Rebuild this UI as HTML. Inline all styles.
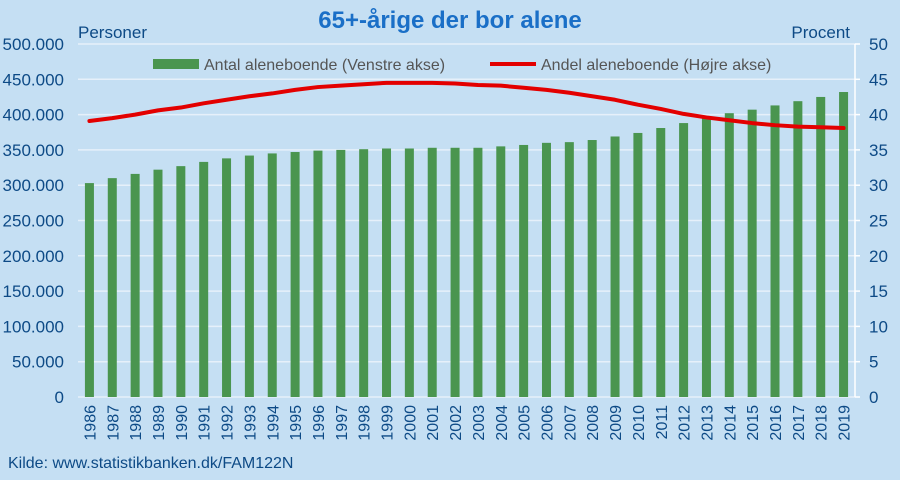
<!DOCTYPE html>
<html><head><meta charset="utf-8"><style>
body{margin:0;background:#c5dff3;}
svg{display:block;font-family:"Liberation Sans",sans-serif;}
</style></head><body>
<svg id="chart" width="900" height="480">
<rect x="0" y="0" width="900" height="480" fill="#c5dff3"/>
<text x="450" y="28" text-anchor="middle" font-size="24" font-weight="bold" fill="#1a6fc7">65+-årige der bor alene</text>
<text x="78" y="38" font-size="17" fill="#0d4a86">Personer</text>
<text x="850" y="38" text-anchor="end" font-size="17" fill="#0d4a86">Procent</text>
<g id="grid"></g><g id="bars"></g><g id="line"></g><g id="axes"></g>
<g>
<rect x="153" y="59" width="46" height="10" fill="#4a954f"/>
<text x="204" y="70" font-size="16" fill="#555">Antal aleneboende (Venstre akse)</text>
<line x1="490" y1="64" x2="536" y2="64" stroke="#e30000" stroke-width="4"/>
<text x="541" y="70" font-size="16" fill="#555">Andel aleneboende (Højre akse)</text>
</g>
<text x="8" y="468" font-size="16" fill="#0d4a86">Kilde: www.statistikbanken.dk/FAM122N</text>
</svg>
<script>
const years=[1986,1987,1988,1989,1990,1991,1992,1993,1994,1995,1996,1997,1998,1999,2000,2001,2002,2003,2004,2005,2006,2007,2008,2009,2010,2011,2012,2013,2014,2015,2016,2017,2018,2019];
const persons=[303,310,316,322,327,333,338,342,345,347,349,350,351,352,352,353,353,353,355,357,360,361,364,369,374,381,388,395,402,407,413,419,425,432];
const percent=[39.1,39.5,40.0,40.6,41.0,41.6,42.1,42.6,43.0,43.5,43.9,44.1,44.3,44.5,44.5,44.5,44.4,44.2,44.1,43.8,43.5,43.1,42.6,42.1,41.4,40.8,40.1,39.6,39.2,38.8,38.5,38.3,38.2,38.1];
const leftTicks=[0,50,100,150,200,250,300,350,400,450,500];
const leftTickLabels=["0","50.000","100.000","150.000","200.000","250.000","300.000","350.000","400.000","450.000","500.000"];
const rightTicks=[0,5,10,15,20,25,30,35,40,45,50];
const NS="http://www.w3.org/2000/svg";
const X0=78,X1=855,Y0=397,Y1=44;
const band=(X1-X0)/years.length;
const xc=i=>X0+band*(i+0.5);
const yL=v=>Y0-(v/500)*(Y0-Y1);
const yR=v=>Y0-(v/50)*(Y0-Y1);
function mk(tag,attrs,parent){const e=document.createElementNS(NS,tag);for(const k in attrs)e.setAttribute(k,attrs[k]);parent.appendChild(e);return e;}
const grid=document.getElementById('grid'),bars=document.getElementById('bars'),line=document.getElementById('line'),axes=document.getElementById('axes');
leftTicks.forEach((t,i)=>{
 const g=mk('line',{x1:X0,x2:X1,y1:yL(t),y2:yL(t),stroke:'#e6f0fa','stroke-width':1.5},grid);
 
 
 const tx=mk('text',{x:X0-14,y:yL(t)+6,'text-anchor':'end','font-size':17,fill:'#0d4a86'},axes);
 tx.textContent=leftTickLabels[i];
 
 
});
rightTicks.forEach(t=>{
 const tk=mk('line',{x1:X1,x2:X1+5,y1:yR(t),y2:yR(t),stroke:'#fff','stroke-width':1.5},axes);
 
 
 const tx=mk('text',{x:X1+14,y:yR(t)+6,'font-size':17,fill:'#0d4a86'},axes);
 tx.textContent=t;
 
 
});
const ax=mk('line',{x1:X1,x2:X1,y1:Y1,y2:Y0,stroke:'#fff','stroke-width':1.5},axes);


years.forEach((yr,i)=>{
 const r=mk('rect',{x:xc(i)-4.5,y:yL(persons[i]),width:9,height:Y0-yL(persons[i]),fill:'#4a954f'},bars);
 
 
 const tx=mk('text',{transform:`translate(${xc(i)+6},${Y0+8}) rotate(-90)`,'text-anchor':'end','font-size':16,fill:'#0d4a86'},axes);
 tx.textContent=yr;
 
 
});
const p=mk('polyline',{points:percent.map((v,i)=>xc(i)+','+yR(v)).join(' '),fill:'none',stroke:'#e30000','stroke-width':4,'stroke-linejoin':'round','stroke-linecap':'round'},line);


</script>
</body></html>
